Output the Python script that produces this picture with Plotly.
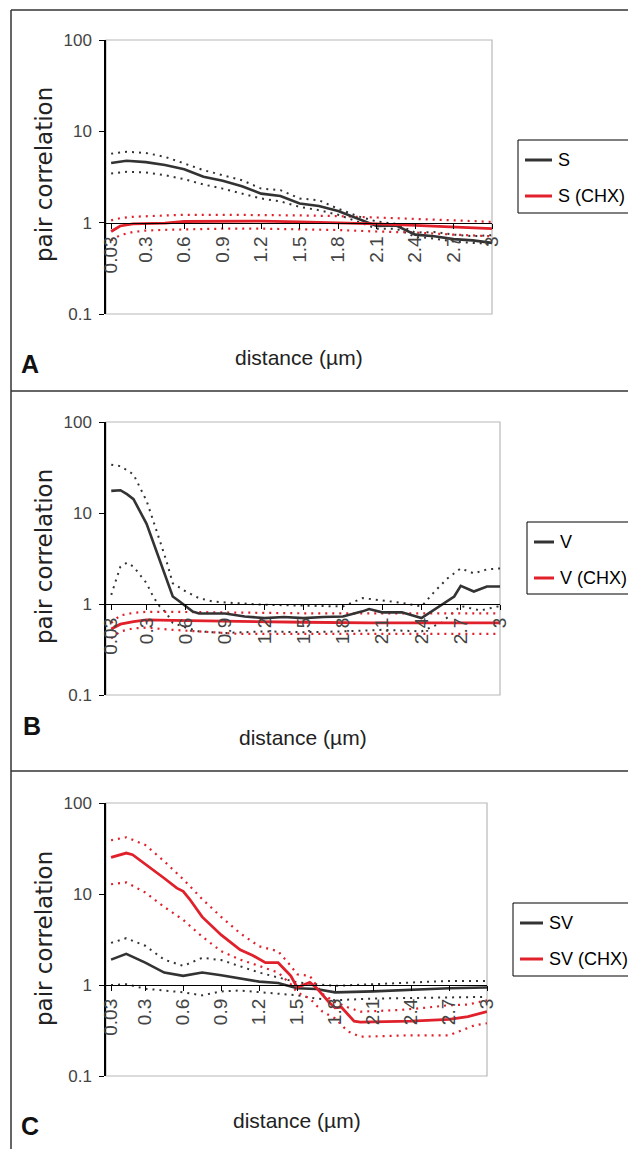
import plotly.graph_objects as go

# ---------------- data ----------------
tick_vals = [0.03, 0.3, 0.6, 0.9, 1.2, 1.5, 1.8, 2.1, 2.4, 2.7, 3.0]
tick_text = ["0.03", "0.3", "0.6", "0.9", "1.2", "1.5", "1.8", "2.1", "2.4", "2.7", "3"]

# Panel A
a_x = [0.03, 0.15, 0.3, 0.45, 0.6, 0.75, 0.9, 1.05, 1.2, 1.35, 1.5, 1.65, 1.8, 1.95, 2.1, 2.25, 2.4, 2.55, 2.7, 2.85, 3.0]
s_mean = [4.5, 4.76, 4.6, 4.27, 3.85, 3.18, 2.87, 2.5, 2.08, 1.96, 1.62, 1.52, 1.34, 1.1, 0.92, 0.935, 0.74, 0.71, 0.66, 0.64, 0.60]
s_hi = [5.7, 5.98, 5.8, 5.26, 4.45, 3.76, 3.31, 2.92, 2.36, 2.27, 1.84, 1.76, 1.42, 1.18, 1.03, 0.97, 0.78, 0.79, 0.74, 0.71, 0.73]
s_lo = [3.45, 3.6, 3.55, 3.31, 2.99, 2.62, 2.36, 2.08, 1.84, 1.71, 1.49, 1.37, 1.22, 1.03, 0.86, 0.86, 0.70, 0.67, 0.62, 0.60, 0.59]
a_chx_x = [0.03, 0.1, 0.2, 0.3, 0.45, 0.6, 0.9, 1.2, 1.5, 1.8, 2.1, 2.4, 2.7, 3.0]
s_chx = [0.80, 0.92, 0.97, 0.975, 0.99, 1.03, 1.04, 1.04, 1.02, 1.0, 0.97, 0.935, 0.89, 0.86]
s_chx_hi = [1.06, 1.12, 1.16, 1.18, 1.2, 1.22, 1.22, 1.22, 1.2, 1.18, 1.15, 1.1, 1.06, 1.02]
s_chx_lo = [0.64, 0.73, 0.79, 0.82, 0.835, 0.845, 0.86, 0.86, 0.845, 0.83, 0.80, 0.78, 0.74, 0.71]

# Panel B
v_x = [0.03, 0.1, 0.15, 0.2, 0.3, 0.4, 0.45, 0.5, 0.55, 0.6, 0.65, 0.7, 0.9, 1.05, 1.2, 1.35, 1.5, 1.65, 1.8, 1.95, 2.0, 2.1, 2.25, 2.4, 2.55, 2.65, 2.7, 2.8, 2.9, 3.0]
v_mean = [17.5, 17.8, 16.1, 14.2, 7.6, 3.03, 1.84, 1.21, 1.07, 0.94, 0.83, 0.785, 0.785, 0.73, 0.70, 0.72, 0.70, 0.72, 0.73, 0.83, 0.88, 0.81, 0.81, 0.70, 0.98, 1.21, 1.58, 1.37, 1.56, 1.56]
v_hi_x = [0.03, 0.1, 0.2, 0.3, 0.35, 0.4, 0.45, 0.5, 0.6, 0.7, 0.8, 0.9, 1.2, 1.5, 1.8, 1.95, 2.1, 2.25, 2.4, 2.5, 2.6, 2.7, 2.8, 2.9, 3.0]
v_hi = [34, 32.7, 26.5, 13.6, 8.3, 5.0, 3.03, 1.69, 1.37, 1.16, 1.07, 1.04, 0.98, 0.96, 0.94, 1.16, 1.10, 1.03, 0.94, 1.37, 1.92, 2.46, 2.17, 2.4, 2.46]
v_lo_x = [0.03, 0.1, 0.15, 0.2, 0.3, 0.35, 0.4, 0.45, 0.5, 0.6, 0.7, 0.9, 1.2, 1.5, 1.8, 2.1, 2.4, 2.55, 2.7, 2.85, 3.0]
v_lo = [1.26, 2.57, 2.84, 2.57, 1.69, 1.21, 0.94, 0.80, 0.62, 0.55, 0.50, 0.48, 0.50, 0.49, 0.50, 0.52, 0.50, 0.62, 0.95, 0.85, 0.95]
v_chx_x = [0.03, 0.1, 0.2, 0.3, 0.5, 1.0, 1.5, 2.0, 2.5, 3.0]
v_chx = [0.53, 0.6, 0.64, 0.67, 0.66, 0.64, 0.63, 0.62, 0.62, 0.62]
v_chx_hi = [0.62, 0.75, 0.8, 0.82, 0.82, 0.80, 0.79, 0.79, 0.79, 0.79]
v_chx_lo = [0.42, 0.5, 0.54, 0.55, 0.52, 0.47, 0.47, 0.47, 0.47, 0.47]

# Panel C
sv_x = [0.03, 0.15, 0.3, 0.45, 0.6, 0.75, 0.9, 1.05, 1.2, 1.35, 1.5, 1.65, 1.8, 2.1, 2.4, 2.7, 3.0]
sv_mean = [1.9, 2.2, 1.76, 1.37, 1.26, 1.37, 1.28, 1.18, 1.09, 1.05, 0.92, 0.905, 0.83, 0.85, 0.89, 0.92, 0.94]
sv_hi = [2.9, 3.27, 2.7, 1.9, 1.62, 1.99, 1.88, 1.62, 1.37, 1.21, 1.07, 1.02, 0.98, 1.02, 1.07, 1.11, 1.11]
sv_lo = [1.0, 1.02, 0.91, 0.87, 0.83, 0.77, 0.85, 0.87, 0.83, 0.80, 0.77, 0.71, 0.68, 0.71, 0.72, 0.74, 0.74]
svc_x = [0.03, 0.15, 0.2, 0.3, 0.45, 0.55, 0.6, 0.65, 0.75, 0.9, 1.05, 1.15, 1.2, 1.25, 1.35, 1.45, 1.5, 1.6, 1.65, 1.75, 1.8, 1.85, 1.95, 2.0, 2.4, 2.7, 2.85, 3.0]
sv_chx = [25.3, 28.2, 27, 21.4, 14.9, 11.6, 10.7, 8.8, 5.6, 3.55, 2.44, 2.11, 1.94, 1.76, 1.76, 1.26, 0.94, 1.07, 0.94, 0.65, 0.56, 0.57, 0.40, 0.39, 0.40, 0.42, 0.45, 0.51]
svc_hi_x = [0.03, 0.15, 0.3, 0.45, 0.6, 0.75, 0.9, 1.05, 1.2, 1.35, 1.45, 1.5, 1.6, 1.7, 1.8, 1.9, 2.0, 2.3, 2.5, 2.7, 2.85, 3.0]
sv_chx_hi = [39, 42, 34.6, 22.9, 14.5, 8.8, 5.6, 3.7, 2.66, 2.35, 1.62, 1.31, 1.26, 0.80, 0.65, 0.57, 0.51, 0.53, 0.56, 0.6, 0.61, 0.68]
svc_lo_x = [0.03, 0.15, 0.3, 0.45, 0.6, 0.75, 0.9, 1.05, 1.2, 1.35, 1.45, 1.5, 1.6, 1.7, 1.8, 1.9, 2.0, 2.4, 2.7, 2.8, 2.9, 3.0]
sv_chx_lo = [12.8, 13.4, 10.4, 7.2, 5.2, 3.4, 2.35, 1.9, 1.62, 1.37, 1.02, 0.83, 0.71, 0.51, 0.43, 0.31, 0.27, 0.28, 0.28, 0.32, 0.36, 0.38]

legend_labels = [["S", "S (CHX)"], ["V", "V (CHX)"], ["SV", "SV (CHX)"]]
panel_letters = ["A", "B", "C"]
y_title = "pair correlation"
x_title = "distance (µm)"

# ---------------- style ----------------
OFF = 8  # page body margin of the browser
W, H = 636 - OFF, 1149 - OFF
BLACK = "#333333"
RED = "#e0202a"
SANS = "Liberation Sans, Arial, sans-serif"
DOT = "2px,5px"


def px(v):
    return (v - OFF) / W


def py(v):
    return 1 - (v - OFF) / H


# plot-area boxes in page pixels: (left, right, top, bottom)
boxes = [(106, 492, 40, 314), (106, 500, 422, 695), (106, 487, 803, 1076)]
legend_box = [(518, 140, 213, 38), (527, 522, 594, 31), (513, 903, 976, 34)]
ytitle_pos = [(44, 175), (44, 557), (44, 939)]
xtitle_pos = [(299, 357), (303, 737), (297, 1120)]
letter_pos = [(30, 364), (32, 726), (30, 1126)]

panels = [
    [(a_x, s_mean, BLACK, "solid", 2.6, 0), (a_x, s_hi, BLACK, DOT, 2, None), (a_x, s_lo, BLACK, DOT, 2, None),
     (a_chx_x, s_chx, RED, "solid", 2.8, 1), (a_chx_x, s_chx_hi, RED, DOT, 2.2, None), (a_chx_x, s_chx_lo, RED, DOT, 2.2, None)],
    [(v_x, v_mean, BLACK, "solid", 2.6, 0), (v_hi_x, v_hi, BLACK, DOT, 2, None), (v_lo_x, v_lo, BLACK, DOT, 2, None),
     (v_chx_x, v_chx, RED, "solid", 2.8, 1), (v_chx_x, v_chx_hi, RED, DOT, 2.2, None), (v_chx_x, v_chx_lo, RED, DOT, 2.2, None)],
    [(sv_x, sv_mean, BLACK, "solid", 2.6, 0), (sv_x, sv_hi, BLACK, DOT, 2, None), (sv_x, sv_lo, BLACK, DOT, 2, None),
     (svc_x, sv_chx, RED, "solid", 2.8, 1), (svc_hi_x, sv_chx_hi, RED, DOT, 2.2, None), (svc_lo_x, sv_chx_lo, RED, DOT, 2.2, None)],
]

fig = go.Figure()
layout = dict(
    template="none",
    width=W, height=H, margin=dict(l=0, r=0, t=0, b=0, autoexpand=False),
    paper_bgcolor="white", plot_bgcolor="white", showlegend=False,
)
shapes = []
annotations = []


def ann(text, x, y, size, family=SANS, color="#222222", angle=0, xanchor="center"):
    annotations.append(dict(text=text, x=px(x), y=py(y), xref="paper", yref="paper",
                            showarrow=False, textangle=angle, xanchor=xanchor, yanchor="middle",
                            font=dict(family=family, size=size, color=color)))


for i, (box, traces) in enumerate(zip(boxes, panels)):
    n = "" if i == 0 else str(i + 1)
    xa, ya = "x" + n, "y" + n
    left, right, top, bottom = box
    xd = [px(left), px(right)]
    yd = [py(bottom), py(top)]
    order = [1, 2, 4, 5, 0, 3]  # dotted first, solid on top
    for k in order:
        xs, ys, col, dash, lw, li = traces[k]
        fig.add_trace(go.Scatter(
            x=xs, y=ys, mode="lines", xaxis=xa, yaxis=ya,
            line=dict(color=col, width=lw, dash=dash),
            name=legend_labels[i][li] if li is not None else "",
            showlegend=False, hoverinfo="skip",
        ))
    layout["xaxis" + n] = dict(
        domain=xd, anchor="free", position=yd[0] + (yd[1] - yd[0]) / 3.0,
        range=[-0.01, 3.0], tickvals=tick_vals, ticktext=tick_text, tickangle=-90,
        ticks="outside", ticklen=5, tickcolor="black", tickwidth=1,
        showline=True, linecolor="black", linewidth=1.3, showgrid=False, zeroline=False,
        tickfont=dict(family=SANS, size=19, color="#444444"), fixedrange=True, automargin=False,
    )
    layout["yaxis" + n] = dict(
        domain=yd, anchor=xa, type="log", range=[-1, 2],
        tickvals=[0.1, 1, 10, 100], ticktext=["0.1", "1", "10", "100"],
        ticks="outside", ticklen=5, tickcolor="black", showline=True, linecolor="black",
        linewidth=1.5, showgrid=False, zeroline=False, ticklabelstandoff=4,
        tickfont=dict(family=SANS, size=17, color="#444444"), fixedrange=True, automargin=False,
    )
    # grey frame (top/right/bottom) of the plot area
    shapes.append(dict(type="rect", xref=xa + " domain", yref=ya + " domain",
                       x0=0, x1=1, y0=0, y1=1, line=dict(color="#b8b8b8", width=1.2), layer="below"))
    ann(y_title, ytitle_pos[i][0], ytitle_pos[i][1], 23, family="DejaVu Sans, sans-serif", angle=-90)
    ann(x_title, xtitle_pos[i][0], xtitle_pos[i][1], 21)
    ann("<b>" + panel_letters[i] + "</b>", letter_pos[i][0], letter_pos[i][1], 25, color="#111111")

    # legend box (drawn by hand so it can run off the right edge like the original)
    bl, bt, bb, toff = legend_box[i]
    shapes.append(dict(type="rect", xref="paper", yref="paper", x0=px(bl), x1=px(650),
                       y0=py(bb), y1=py(bt), line=dict(color="black", width=1), fillcolor="white"))
    rows = [bt + 20, bt + 56]
    for r, (col, lab) in enumerate([(BLACK, legend_labels[i][0]), (RED, legend_labels[i][1])]):
        shapes.append(dict(type="line", xref="paper", yref="paper", x0=px(bl + 7), x1=px(bl + toff - 4),
                           y0=py(rows[r]), y1=py(rows[r]), line=dict(color=col, width=3)))
        ann(lab, bl + toff, rows[r], 18, color="black", xanchor="left")

# panel separators / outer frame
frame = dict(color="#333333", width=1.5)
shapes.append(dict(type="line", xref="paper", yref="paper", x0=px(11), x1=px(11), y0=py(10), y1=py(1160), line=frame))
for yy in [10, 391, 771]:
    shapes.append(dict(type="line", xref="paper", yref="paper", x0=px(11), x1=px(650), y0=py(yy), y1=py(yy), line=frame))

layout["shapes"] = shapes
layout["annotations"] = annotations
fig.update_layout(**layout)
fig.write_html("out.html")
